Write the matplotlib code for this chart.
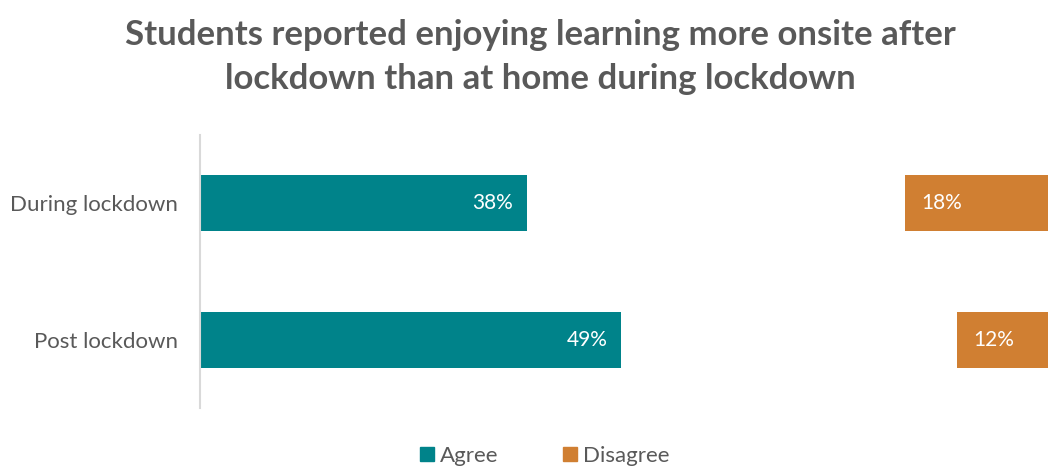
import numpy as np
import matplotlib as mpl
import matplotlib.pyplot as plt
from matplotlib.patches import Patch

mpl.rcParams['font.family'] = ['Lato', 'DejaVu Sans']

categories = ['During lockdown', 'Post lockdown']
agree = np.array([38, 49])
disagree = np.array([18, 12])
series_names = ['Agree', 'Disagree']

teal = '#00838A'
orange = '#D07F32'
grey = '#595959'

fig = plt.figure(figsize=(10.48, 4.71), dpi=100, facecolor='w')
ax = fig.add_axes([0.1908, 0.1338, 0.8206, 0.5796])

y = np.arange(len(categories))
h = 0.41
ax.barh(y, agree, height=h, color=teal)
ax.barh(y, disagree, left=100 - disagree, height=h, color=orange)

for yi, a, d in zip(y, agree, disagree):
    ax.text(a - 1.6, yi, '%d%%' % a, color='w', fontsize=15, ha='right', va='center')
    ax.text(100 - d + 1.9, yi, '%d%%' % d, color='w', fontsize=15, ha='left', va='center')

ax.set_xlim(0, 100)
ax.set_ylim(len(categories) - 0.5, -0.5)
ax.set_yticks(y)
ax.set_yticklabels(categories, fontsize=16, color=grey)
ax.tick_params(axis='y', length=0, pad=16)
ax.set_xticks([])
for s in ['top', 'right', 'bottom']:
    ax.spines[s].set_visible(False)
ax.spines['left'].set_color('#D9D9D9')
ax.spines['left'].set_linewidth(1.5)

fig.suptitle('Students reported enjoying learning more onsite after\nlockdown than at home during lockdown',
             x=0.516, y=0.96, fontsize=25, fontweight='bold', color=grey, linespacing=1.45)

handles = [Patch(color=teal, label=series_names[0]), Patch(color=orange, label=series_names[1])]
fig.legend(handles=handles, loc='lower center', bbox_to_anchor=(0.52, -0.032), ncol=2, frameon=False,
           fontsize=16, labelcolor=grey, handlelength=0.6, handleheight=0.6, handletextpad=0.3,
           columnspacing=2.9)

fig.savefig('out.png', dpi=100)
